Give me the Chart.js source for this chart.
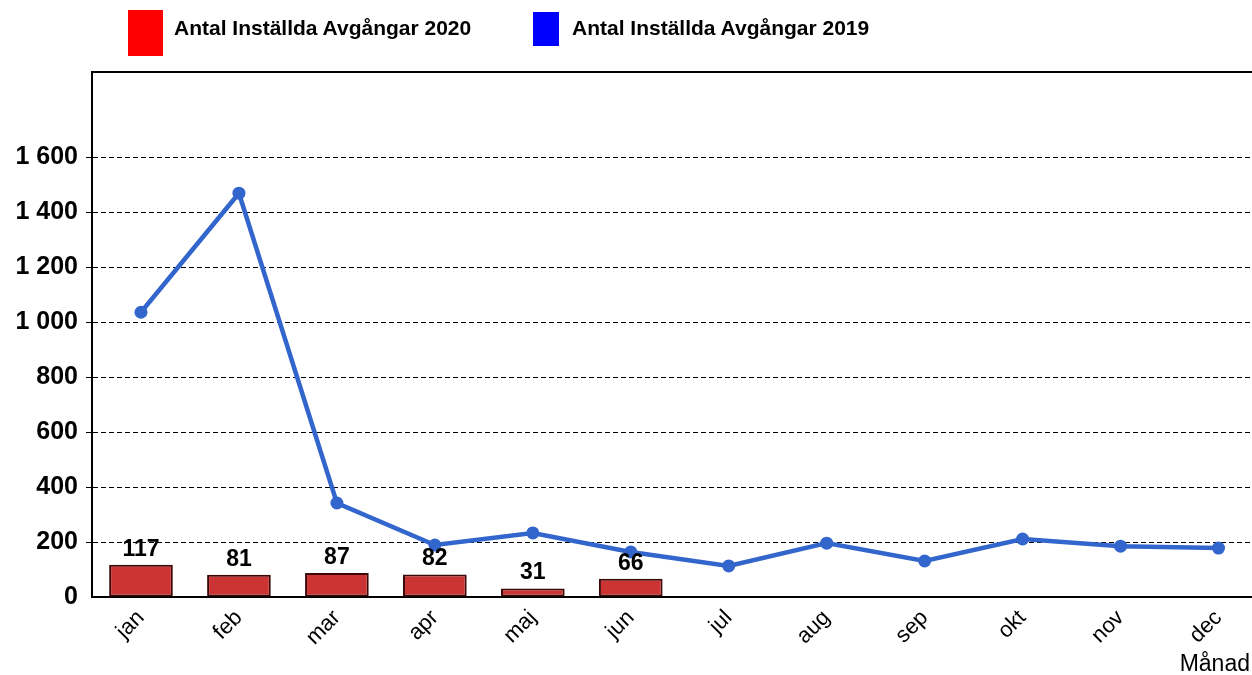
<!DOCTYPE html>
<html>
<head>
<meta charset="utf-8">
<script src="https://cdn.jsdelivr.net/npm/chart.js@4/dist/chart.umd.min.js"></script>
<style>
  html, body { margin: 0; padding: 0; background: #fff; overflow: hidden; }
  body { width: 1252px; height: 675px; position: relative; font-family: "Liberation Sans", Arial, sans-serif; }
  #wrap { position: absolute; left: 0; top: 0; width: 1274px; height: 675px; }
  .lg-box { position: absolute; }
  .lg-text { position: absolute; font-weight: bold; font-size: 21px; color: #000; white-space: nowrap; }
  #xtitle { position: absolute; right: 2px; top: 650px; font-size: 23px; color: #000; }
</style>
</head>
<body>
<div id="wrap"><canvas id="chart"></canvas></div>
<div class="lg-box" style="left:128px;top:10px;width:35px;height:46px;background:#ff0000"></div>
<div class="lg-text" style="left:174px;top:16px">Antal Inställda Avgångar 2020</div>
<div class="lg-box" style="left:533px;top:12px;width:26px;height:34px;background:#0000ff"></div>
<div class="lg-text" style="left:572px;top:16px">Antal Inställda Avgångar 2019</div>
<div id="xtitle">Månad</div>
<script>
// data
const months = ["jan", "feb", "mar", "apr", "maj", "jun", "jul", "aug", "sep", "okt", "nov", "dec"];
const cancelled2020 = [117, 81, 87, 82, 31, 66, null, null, null, null, null, null];
const cancelled2019 = [1036, 1469, 342, 189, 233, 164, 113, 196, 131, 211, 185, 178];
const yMax = 1910;
const yLabelMax = 1600;

const FONT = "'Liberation Sans', Arial, sans-serif";

// labels above the 2020 bars
const barLabels = {
  id: "barLabels",
  afterDatasetsDraw(chart) {
    const ctx = chart.ctx;
    const meta = chart.getDatasetMeta(0);
    ctx.save();
    ctx.font = "bold 23px " + FONT;
    ctx.fillStyle = "#000";
    ctx.textAlign = "center";
    ctx.textBaseline = "alphabetic";
    meta.data.forEach((bar, i) => {
      const v = cancelled2020[i];
      if (v == null) return;
      ctx.fillText(String(v), bar.x, bar.y - 9);
    });
    ctx.restore();
  }
};

// top frame line of the plot box
const topFrame = {
  id: "topFrame",
  afterDraw(chart) {
    const { ctx, chartArea } = chart;
    ctx.save();
    ctx.strokeStyle = "#000";
    ctx.lineWidth = 2;
    ctx.beginPath();
    ctx.moveTo(chartArea.left, chartArea.top);
    ctx.lineTo(chartArea.right, chartArea.top);
    ctx.stroke();
    ctx.restore();
  }
};

function fmt(v) {
  return String(v).replace(/\B(?=(\d{3})+(?!\d))/g, " ");
}

new Chart(document.getElementById("chart"), {
  data: {
    labels: months,
    datasets: [
      {
        type: "bar",
        label: "Antal Inställda Avgångar 2020",
        data: cancelled2020,
        backgroundColor: "#cc3333",
        borderColor: "#3a0808",
        borderWidth: 2,
        borderSkipped: false,
        barPercentage: 0.65,
        categoryPercentage: 1,
        order: 2
      },
      {
        type: "line",
        label: "Antal Inställda Avgångar 2019",
        data: cancelled2019,
        borderColor: "#3366cc",
        backgroundColor: "#3366cc",
        borderWidth: 4.5,
        pointRadius: 6.5,
        pointBackgroundColor: "#3366cc",
        pointBorderWidth: 0,
        tension: 0,
        order: 1
      }
    ]
  },
  options: {
    responsive: true,
    maintainAspectRatio: false,
    animation: false,
    layout: { padding: { top: 72, right: 0, left: 0, bottom: 0 } },
    plugins: {
      legend: { display: false },
      tooltip: { enabled: false }
    },
    scales: {
      x: {
        grid: { display: false },
        border: { display: true, color: "#000", width: 2 },
        ticks: {
          color: "#000",
          font: { family: FONT, size: 22 },
          minRotation: 45,
          maxRotation: 45,
          padding: 0
        },
        afterFit(scale) { scale.height = 78; }
      },
      y: {
        min: 0,
        max: yMax,
        grid: {
          color: (c) => (c.tick && (c.tick.value > yLabelMax || c.tick.value === 0)) ? "rgba(0,0,0,0)" : "#000",
          lineWidth: 1,
          tickLength: 6,
          drawTicks: true
        },
        border: { display: true, color: "#000", width: 2, dash: [5, 3] },
        ticks: {
          stepSize: 200,
          color: "#000",
          padding: 8,
          font: { family: FONT, size: 25, weight: "bold" },
          callback: (v) => (v > yLabelMax ? "" : fmt(v))
        },
        afterFit(scale) { scale.width = 92; }
      }
    }
  },
  plugins: [barLabels, topFrame]
});
</script>
</body>
</html>
